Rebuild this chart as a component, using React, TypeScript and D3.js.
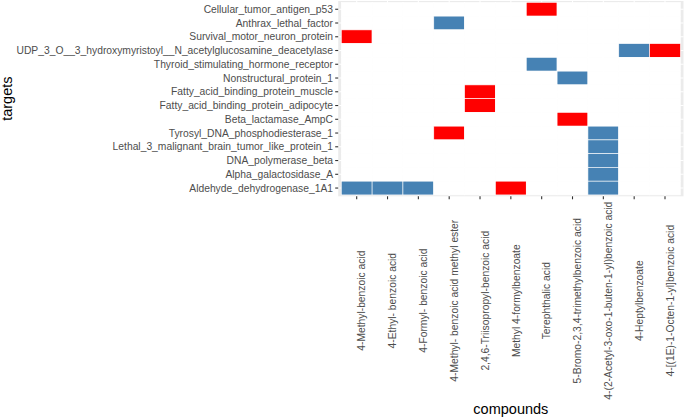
import { useEffect, useRef } from 'react';
import * as d3 from 'd3';

const W = 685;
const H = 418;

const compounds = [
  '4-Methyl-benzoic acid',
  '4-Ethyl- benzoic acid',
  '4-Formyl- benzoic acid',
  '4-Methyl- benzoic acid methyl ester',
  '2,4,6-Triisopropyl-benzoic acid',
  'Methyl 4-formylbenzoate',
  'Terephthalic acid',
  '5-Bromo-2,3,4-trimethylbenzoic acid',
  '4-(2-Acetyl-3-oxo-1-buten-1-yl)benzoic acid',
  '4-Heptylbenzoate',
  '4-[(1E)-1-Octen-1-yl]benzoic acid',
];

// top to bottom
const targets = [
  'Cellular_tumor_antigen_p53',
  'Anthrax_lethal_factor',
  'Survival_motor_neuron_protein',
  'UDP_3_O__3_hydroxymyristoyl__N_acetylglucosamine_deacetylase',
  'Thyroid_stimulating_hormone_receptor',
  'Nonstructural_protein_1',
  'Fatty_acid_binding_protein_muscle',
  'Fatty_acid_binding_protein_adipocyte',
  'Beta_lactamase_AmpC',
  'Tyrosyl_DNA_phosphodiesterase_1',
  'Lethal_3_malignant_brain_tumor_like_protein_1',
  'DNA_polymerase_beta',
  'Alpha_galactosidase_A',
  'Aldehyde_dehydrogenase_1A1',
];

// [target, compound] pairs per group
const groupA: [string, string][] = [
  ['Anthrax_lethal_factor', '4-Methyl- benzoic acid methyl ester'],
  ['UDP_3_O__3_hydroxymyristoyl__N_acetylglucosamine_deacetylase', '4-Heptylbenzoate'],
  ['Thyroid_stimulating_hormone_receptor', 'Terephthalic acid'],
  ['Nonstructural_protein_1', '5-Bromo-2,3,4-trimethylbenzoic acid'],
  ['Tyrosyl_DNA_phosphodiesterase_1', '4-(2-Acetyl-3-oxo-1-buten-1-yl)benzoic acid'],
  ['Lethal_3_malignant_brain_tumor_like_protein_1', '4-(2-Acetyl-3-oxo-1-buten-1-yl)benzoic acid'],
  ['DNA_polymerase_beta', '4-(2-Acetyl-3-oxo-1-buten-1-yl)benzoic acid'],
  ['Alpha_galactosidase_A', '4-(2-Acetyl-3-oxo-1-buten-1-yl)benzoic acid'],
  ['Aldehyde_dehydrogenase_1A1', '4-Methyl-benzoic acid'],
  ['Aldehyde_dehydrogenase_1A1', '4-Ethyl- benzoic acid'],
  ['Aldehyde_dehydrogenase_1A1', '4-Formyl- benzoic acid'],
  ['Aldehyde_dehydrogenase_1A1', '4-(2-Acetyl-3-oxo-1-buten-1-yl)benzoic acid'],
];

const groupB: [string, string][] = [
  ['Cellular_tumor_antigen_p53', 'Terephthalic acid'],
  ['Survival_motor_neuron_protein', '4-Methyl-benzoic acid'],
  ['UDP_3_O__3_hydroxymyristoyl__N_acetylglucosamine_deacetylase', '4-[(1E)-1-Octen-1-yl]benzoic acid'],
  ['Fatty_acid_binding_protein_muscle', '2,4,6-Triisopropyl-benzoic acid'],
  ['Fatty_acid_binding_protein_adipocyte', '2,4,6-Triisopropyl-benzoic acid'],
  ['Beta_lactamase_AmpC', '5-Bromo-2,3,4-trimethylbenzoic acid'],
  ['Tyrosyl_DNA_phosphodiesterase_1', '4-Methyl- benzoic acid methyl ester'],
  ['Aldehyde_dehydrogenase_1A1', 'Methyl 4-formylbenzoate'],
];

const panel = { left: 338.2, right: 683.5, top: 1, bottom: 196.3 };
const FONT = '"Liberation Sans", Arial, sans-serif';

export default function App() {
  const svgRef = useRef<SVGSVGElement>(null);

  useEffect(() => {
    document.body.style.margin = '0';
    const svg = d3.select(svgRef.current);
    svg.selectAll('*').remove();

    const x = d3.scaleBand<string>().domain(compounds)
      .range([panel.left, panel.right]).paddingInner(0).paddingOuter(0.1);
    const y = d3.scaleBand<string>().domain(targets)
      .range([panel.top, panel.bottom]).paddingInner(0).paddingOuter(0.1);
    const color = d3.scaleOrdinal<string, string>(['A', 'B', 'none'], ['#4682B4', '#FF0000', '#FFFFFF']);

    const lookup = new Map<string, string>();
    groupA.forEach(([t, c]) => lookup.set(`${t}|${c}`, 'A'));
    groupB.forEach(([t, c]) => lookup.set(`${t}|${c}`, 'B'));
    const cells = targets.flatMap(t => compounds.map(c => ({ t, c, g: lookup.get(`${t}|${c}`) ?? 'none' })));

    // panel background
    svg.append('rect').attr('x', panel.left).attr('y', panel.top)
      .attr('width', panel.right - panel.left).attr('height', panel.bottom - panel.top)
      .attr('fill', '#EBEBEB');

    // grid
    const half = x.bandwidth() / 2;
    const halfY = y.bandwidth() / 2;
    svg.append('g').selectAll('line').data(compounds).join('line')
      .attr('x1', d => x(d)! + half).attr('x2', d => x(d)! + half)
      .attr('y1', panel.top).attr('y2', panel.bottom)
      .attr('stroke', '#fff').attr('stroke-width', 1.1);
    svg.append('g').selectAll('line').data(targets).join('line')
      .attr('y1', d => y(d)! + halfY).attr('y2', d => y(d)! + halfY)
      .attr('x1', panel.left).attr('x2', panel.right)
      .attr('stroke', '#fff').attr('stroke-width', 1.1);

    // tiles
    svg.append('g').selectAll('rect').data(cells).join('rect')
      .attr('x', d => x(d.c)!).attr('y', d => y(d.t)!)
      .attr('width', x.bandwidth()).attr('height', y.bandwidth())
      .attr('fill', d => color(d.g))
      .attr('stroke', '#fff').attr('stroke-width', 0.6);

    // y axis ticks + labels
    const ya = svg.append('g');
    ya.selectAll('line').data(targets).join('line')
      .attr('x1', panel.left - 3).attr('x2', panel.left)
      .attr('y1', d => y(d)! + halfY).attr('y2', d => y(d)! + halfY)
      .attr('stroke', '#333333').attr('stroke-width', 1.1);
    ya.selectAll('text').data(targets).join('text')
      .attr('x', panel.left - 5.2).attr('y', d => y(d)! + halfY)
      .attr('dy', '0.35em').attr('text-anchor', 'end')
      .attr('fill', '#4D4D4D').attr('font-size', 10.3).attr('font-family', FONT)
      .text(d => d);

    // x axis ticks + labels
    const xa = svg.append('g');
    xa.selectAll('line').data(compounds).join('line')
      .attr('x1', d => x(d)! + half).attr('x2', d => x(d)! + half)
      .attr('y1', panel.bottom).attr('y2', panel.bottom + 3)
      .attr('stroke', '#333333').attr('stroke-width', 1.1);
    xa.selectAll('text').data(compounds).join('text')
      .attr('transform', d => `translate(${x(d)! + half + 8.8},300.7) rotate(-90)`)
      .attr('text-anchor', 'middle')
      .attr('fill', '#4D4D4D').attr('font-size', 10.3).attr('font-family', FONT)
      .text(d => d);

    // axis titles
    svg.append('text')
      .attr('transform', `translate(${(panel.left + panel.right) / 2},413.5)`)
      .attr('text-anchor', 'middle').attr('fill', '#000')
      .attr('font-size', 14.5).attr('font-family', FONT).text('compounds');
    svg.append('text')
      .attr('transform', `translate(12.3,${(panel.top + panel.bottom) / 2}) rotate(-90)`)
      .attr('text-anchor', 'middle').attr('fill', '#000')
      .attr('font-size', 14.5).attr('font-family', FONT).text('targets');
  }, []);

  return <svg ref={svgRef} width={W} height={H} style={{ display: 'block', background: '#fff' }} />;
}
